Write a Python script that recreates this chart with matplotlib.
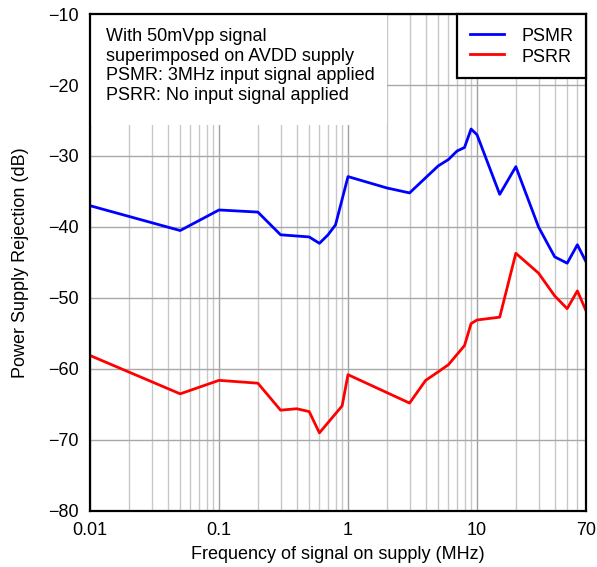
import numpy as np
import matplotlib.pyplot as plt
from matplotlib.patches import Rectangle
from matplotlib.ticker import FixedLocator, NullFormatter

plt.rcParams['font.family'] = ['Liberation Sans', 'DejaVu Sans']
plt.rcParams['font.size'] = 13

# PSMR: 3MHz input signal applied
psmr_f = [0.01, 0.05, 0.1, 0.2, 0.3, 0.5, 0.6, 0.7, 0.8, 1, 2, 3, 5, 6, 7, 8, 9, 10,
          15, 20, 30, 40, 50, 60, 70]
psmr_db = [-37.0, -40.5, -37.6, -37.9, -41.1, -41.4, -42.3, -41.1, -39.7, -32.9, -34.5,
           -35.2, -31.4, -30.5, -29.3, -28.8, -26.2, -27.0, -35.4, -31.5, -40.0, -44.2,
           -45.1, -42.5, -44.9]

# PSRR: no input signal applied
psrr_f = [0.01, 0.05, 0.1, 0.2, 0.3, 0.4, 0.5, 0.6, 0.9, 1, 3, 4, 5, 6, 8, 9, 10,
          15, 20, 30, 40, 50, 60, 70]
psrr_db = [-58.1, -63.5, -61.6, -62.0, -65.8, -65.6, -66.0, -69.0, -65.2, -60.8, -64.8,
           -61.6, -60.4, -59.4, -56.7, -53.6, -53.1, -52.7, -43.7, -46.5, -49.7, -51.5,
           -49.0, -51.8]

x_ticks = [0.01, 0.1, 1, 10, 70]
x_labels = ["0.01", "0.1", "1", "10", "70"]
y_ticks = [-80, -70, -60, -50, -40, -30, -20, -10]

fig = plt.figure(figsize=(5.97, 5.67), dpi=100)
ax = fig.add_axes([0.1508, 0.0988, 0.8308, 0.8765])

minor = [m * 10.0**e for e in range(-2, 2) for m in range(2, 10) if m * 10.0**e < 70]
ax.set_xscale("log")
ax.set_xlim(0.01, 70)
ax.set_ylim(-80, -10)
ax.xaxis.set_major_locator(FixedLocator(x_ticks))
ax.set_xticklabels(x_labels)
ax.xaxis.set_minor_locator(FixedLocator(minor))
ax.xaxis.set_minor_formatter(NullFormatter())
ax.set_yticks(y_ticks)
ax.set_yticklabels([f"\u2212{abs(v)}" for v in y_ticks])

ax.grid(which="major", axis="x", color="#a0a0a0", linewidth=1)
ax.grid(which="minor", axis="x", color="#c8c8c8", linewidth=1)
ax.grid(which="major", axis="y", color="#a8a8a8", linewidth=1)
ax.set_axisbelow(True)
ax.tick_params(which="both", length=0, labelsize=13)
ax.tick_params(axis="x", pad=8)
ax.tick_params(axis="y", pad=8)
for s in ax.spines.values():
    s.set_linewidth(1.6)
    s.set_color("black")

ax.plot(psmr_f, psmr_db, color="#0000ff", linewidth=2, label="PSMR")
ax.plot(psrr_f, psrr_db, color="#ff0000", linewidth=2, label="PSRR")

ax.set_xlabel("Frequency of signal on supply (MHz)", fontsize=13, labelpad=5)
ax.set_ylabel("Power Supply Rejection (dB)", fontsize=13, labelpad=14)

# white note box hiding the grid behind the annotation
ax.add_patch(Rectangle((0, 0.777), 0.599, 0.223, transform=ax.transAxes,
                       facecolor="white", edgecolor="none", zorder=1))
ax.text(0.033, 0.972,
        "With 50mVpp signal\nsuperimposed on AVDD supply\nPSMR: 3MHz input signal applied\nPSRR: No input signal applied",
        transform=ax.transAxes, ha="left", va="top", fontsize=13, linespacing=1.2,
        zorder=3)

leg = ax.legend(loc="upper right", borderaxespad=0, fancybox=False, framealpha=1,
                edgecolor="black", fontsize=13, handlelength=1.9, handletextpad=0.95,
                borderpad=0.7, labelspacing=0.07, handleheight=1.1)
leg.get_frame().set_linewidth(1.6)

fig.savefig("out.png", dpi=100)
